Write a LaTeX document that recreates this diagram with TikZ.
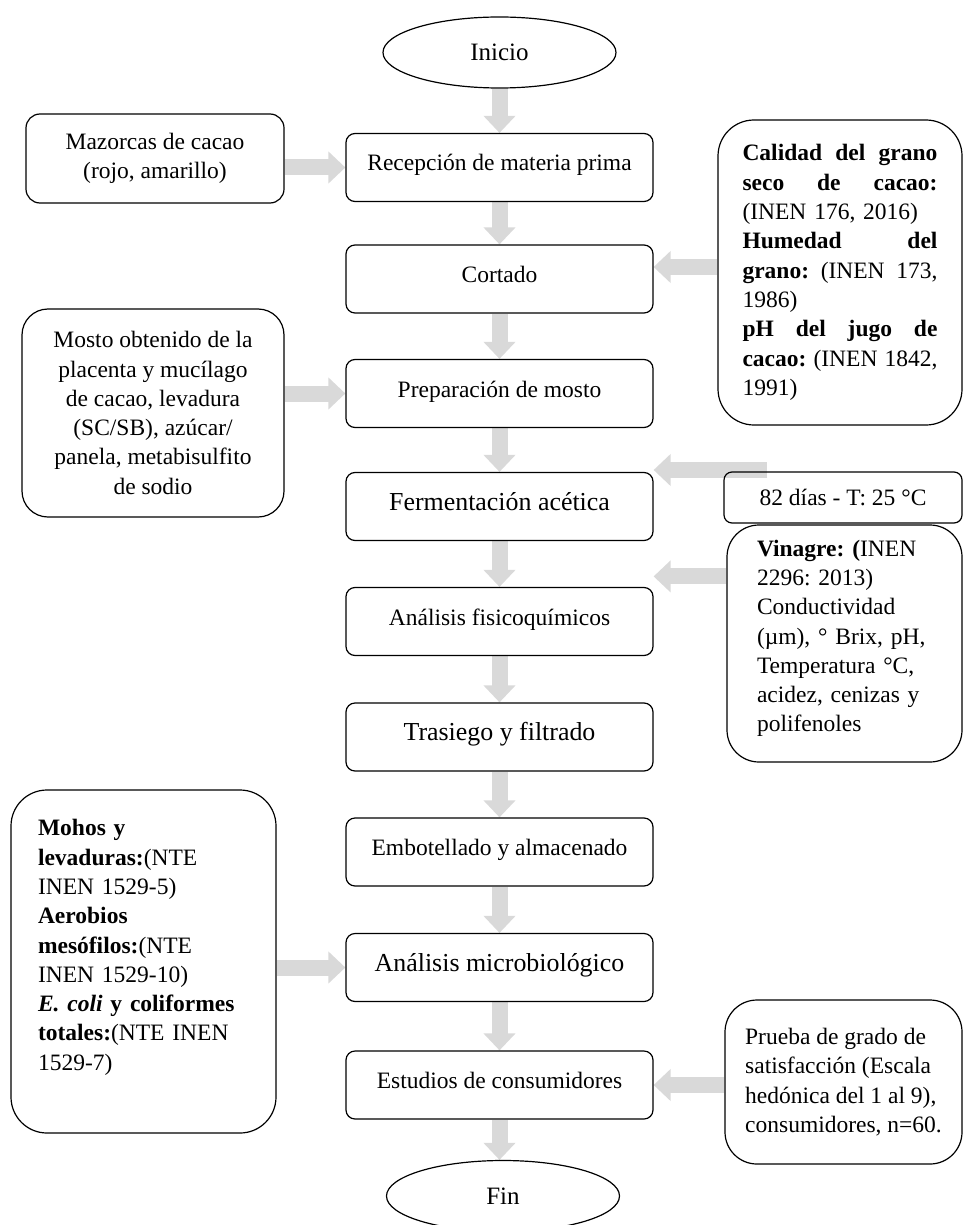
\documentclass[tikz,border=0pt]{standalone}
\usepackage{fontspec}
\setmainfont{Liberation Serif}
\usetikzlibrary{arrows.meta,shapes.geometric,backgrounds}
\definecolor{arrowgray}{HTML}{D9D9D9}
\newcommand{\justline}[1]{\leavevmode\hbox to 195pt{#1}}

\begin{document}
\begin{tikzpicture}[x=1pt,y=-1pt]
    \pgfmathsetmacro{\midx}{499.5}
    \pgfmathsetmacro{\stepwidth}{307}
    \pgfmathsetmacro{\stepheight}{68}
    \pgfmathsetmacro{\shaftwidth}{16}
    \providecommand{\boxfontsize}{\fontsize{23.5}{29.3}\selectfont\frenchspacing}
    \providecommand{\bigfontsize}{\fontsize{25.9}{31}\selectfont\frenchspacing}
    \providecommand{\terminalfontsize}{\fontsize{25}{30}\selectfont}
    \tikzset{
        stepbox/.style={draw,line width=1.2pt,rounded corners=9pt,inner sep=0,
            text height=20pt,text depth=13pt,
            minimum width=\stepwidth pt,minimum height=\stepheight pt,font=\boxfontsize},
        terminal/.style={draw,ellipse,line width=1.2pt,inner sep=0,
            minimum width=233pt,minimum height=71pt,font=\terminalfontsize},
        note/.style={draw,line width=1.2pt,inner sep=0,font=\boxfontsize},
        flow/.style={draw=arrowgray,line width=\shaftwidth pt,
            -{Triangle[length=17pt 0 0,width=31pt 0 0]}}
    }
    \useasboundingbox (0,0) rectangle (963,1225);
    % main column
    \node[terminal] (inicio) at (\midx,52.5) {Inicio};
    \node[stepbox] (recepcion) at (\midx,167.5) {Recepción de materia prima};
    \node[stepbox] (cortado) at (\midx,279) {Cortado};
    \node[stepbox] (preparacion) at (\midx,393.5) {Preparación de mosto};
    \node[stepbox,font=\bigfontsize] (fermentacion) at (\midx,506.5) {Fermentación acética};
    \node[stepbox] (fisico) at (\midx,621.5) {Análisis fisicoquímicos};
    \node[stepbox,font=\bigfontsize] (trasiego) at (\midx,737) {Trasiego y filtrado};
    \node[stepbox] (embotellado) at (\midx,852) {Embotellado y almacenado};
    \node[stepbox,font=\bigfontsize] (micro) at (\midx,967.5) {Análisis microbiológico};
    \node[stepbox] (estudios) at (\midx,1085) {Estudios de consumidores};
    \node[terminal] (fin) at (503,1196) {Fin};
    % left inputs
    \node[note,rounded corners=14pt,minimum width=258pt,minimum height=89pt,align=center]
        (mazorcas) at (155,158.5) {Mazorcas de cacao\\(rojo, amarillo)};
    \node[note,rounded corners=26pt,minimum width=262pt,minimum height=208pt,align=center]
        (mosto) at (153,413) {Mosto obtenido de la\\placenta y mucílago\\de cacao, levadura\\(SC/SB), azúcar/\\panela, metabisulfito\\de sodio};
    \node[note,rounded corners=36pt,minimum width=265pt,minimum height=343pt,text width=211pt,align=left]
        (mohos) at (143.5,961.5) {\textbf{Mohos y}\\\textbf{levaduras:}(NTE\\INEN 1529-5)\\\textbf{Aerobios}\\\textbf{mesófilos:}(NTE\\INEN 1529-10)\\\textbf{\textit{E. coli} y coliformes}\\\textbf{totales:}(NTE INEN\\1529-7)\\[4pt]\mbox{}};
    % right inputs
    \node[note,rounded corners=36pt,minimum width=244pt,minimum height=305pt,text width=195pt,align=left]
        (calidad) at (840,272.5) {\justline{\textbf{Calidad\hfill del\hfill grano}}\\\justline{\textbf{seco\hfill de\hfill cacao:}}\\(INEN 176, 2016)\\\justline{\textbf{Humedad\hfill del}}\\\justline{\textbf{grano:}\hfill(INEN\hfill 173,}\\1986)\\\justline{\textbf{pH\hfill del\hfill jugo\hfill de}}\\\justline{\textbf{cacao:}\hfill(INEN\hfill 1842,}\\1991)};
    \node[note,rounded corners=8pt,minimum width=238pt,minimum height=51pt]
        (dias) at (843,497.5) {82 días - T: 25 °C};
    \node[note,rounded corners=32pt,minimum width=235pt,minimum height=237pt,text width=175pt,align=left]
        (vinagre) at (844.5,643.5) {\textbf{Vinagre: (}INEN\\2296: 2013)\\Conductividad\\(µm), ° Brix, pH,\\Temperatura °C,\\acidez, cenizas y\\polifenoles\\[-14pt]\mbox{}};
    \node[note,rounded corners=32pt,minimum width=237pt,minimum height=164pt,align=left]
        (prueba) at (843.5,1082) {Prueba de grado de\\satisfacción (Escala\\hedónica del 1 al 9),\\consumidores, n=60.};
    \coordinate (diastail) at (767,470);
    \coordinate (vinagretail) at ([yshift=-52pt]vinagre.north west);
    \begin{scope}[on background layer]
        \foreach \from/\to in {inicio/recepcion,recepcion/cortado,cortado/preparacion,
            preparacion/fermentacion,fermentacion/fisico,fisico/trasiego,
            trasiego/embotellado,embotellado/micro,micro/estudios}
            \draw[flow] (\from) -- (\to);
        \draw[flow] (estudios.south) -- (estudios.south |- fin.north);
        \draw[flow] (recepcion.west -| mazorcas.east) -- (recepcion.west);
        \draw[flow] (preparacion.west -| mosto.east) -- (preparacion.west);
        \draw[flow] (micro.west -| mohos.east) -- (micro.west);
        \draw[flow] ([yshift=5.5pt]calidad.west) -- ([yshift=5.5pt]calidad.west -| cortado.east);
        \draw[flow] (diastail) -- (diastail -| fermentacion.east);
        \draw[flow] (vinagretail) -- (vinagretail -| fisico.east);
        \draw[flow] (estudios.east -| prueba.west) -- (estudios.east);
    \end{scope}
\end{tikzpicture}
\end{document}
